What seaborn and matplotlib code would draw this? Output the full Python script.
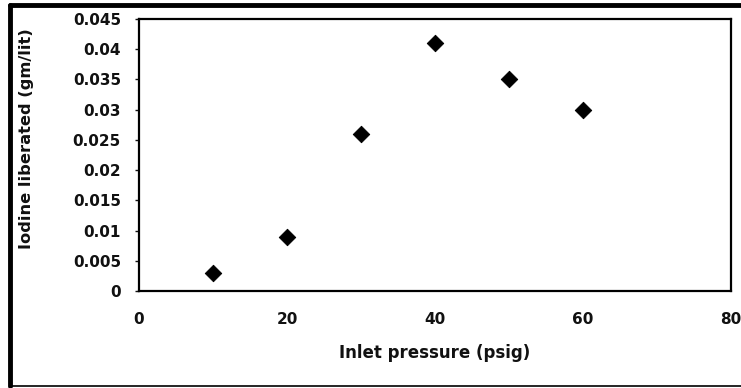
import matplotlib
matplotlib.use("Agg")
import matplotlib.pyplot as plt
import seaborn as sns
import pandas as pd
from matplotlib.lines import Line2D

pressure = [10, 20, 30, 40, 50, 60]
iodine = [0.003, 0.009, 0.026, 0.041, 0.035, 0.030]
xticks = [0, 20, 40, 60, 80]
yticks = [0, 0.005, 0.01, 0.015, 0.02, 0.025, 0.03, 0.035, 0.04, 0.045]
ytick_labels = ["0", "0.005", "0.01", "0.015", "0.02", "0.025", "0.03", "0.035", "0.04", "0.045"]

df = pd.DataFrame({"pressure": pressure, "iodine": iodine})

sns.set_style("white")
plt.rcParams['font.family'] = ['DejaVu Sans']
plt.rcParams['font.weight'] = 'bold'

fig = plt.figure(figsize=(7.41, 3.88), dpi=100)
ax = fig.add_axes([139/741, 1-291/388, (731-139)/741, (291-19)/388])

sns.scatterplot(data=df, x="pressure", y="iodine", marker="D", s=70,
                color="black", edgecolor="black", ax=ax, legend=False)

ax.set_xlim(0, 80)
ax.set_ylim(0, 0.045)
ax.set_xticks(xticks)
ax.set_xticklabels([str(v) for v in xticks], fontsize=11, fontweight='bold')
ax.set_yticks(yticks)
ax.set_yticklabels(ytick_labels, fontsize=11, fontweight='bold')
ax.tick_params(axis='x', length=0, pad=15, colors='#111111')
ax.tick_params(axis='y', length=3, width=1, pad=10, direction='out', left=True, colors='#111111')

for sp in ax.spines.values():
    sp.set_color('black')
    sp.set_linewidth(1.6)

ax.set_xlabel("Inlet pressure (psig)", fontsize=12, fontweight='bold', labelpad=12, color='#111111')
ax.set_ylabel("Iodine liberated (gm/lit)", fontsize=11.7, fontweight='bold', color='#111111')
ax.yaxis.set_label_coords(-0.177, 0.559)

# outer frame
fig.add_artist(Line2D([10/741, 1.0], [1-5/388, 1-5/388], transform=fig.transFigure, color='black', lw=3.5))
fig.add_artist(Line2D([10/741, 10/741], [1-5/388, 1-386/388], transform=fig.transFigure, color='black', lw=3.5))
fig.add_artist(Line2D([10/741, 1.0], [1-386/388, 1-386/388], transform=fig.transFigure, color='black', lw=1.2))

fig.savefig("out.png", dpi=100)
